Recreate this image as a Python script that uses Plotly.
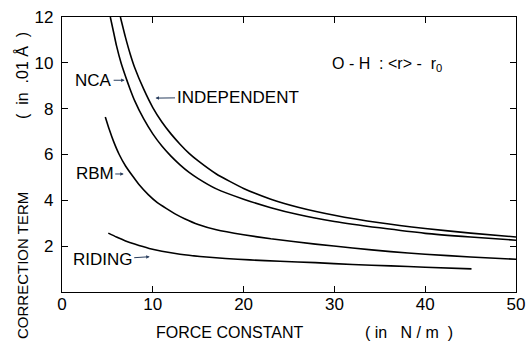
import plotly.graph_objects as go

# Data
ind_x = [6.43, 7, 7.5, 8, 9, 10, 11, 12, 13, 14, 15, 17, 20, 23, 26, 30, 35, 40, 45, 50]
ind_y = [12.0, 11.1, 10.4, 9.8, 8.85, 8.05, 7.42, 6.9, 6.45, 6.05, 5.72, 5.15, 4.52, 4.05,
         3.7, 3.35, 3.02, 2.77, 2.57, 2.40]

nca_x = [5.32, 5.7, 6, 6.5, 7, 7.5, 8, 9, 10, 11, 12, 13, 14, 15, 17, 20, 23, 26, 30, 35, 40, 45, 50]
nca_y = [12.0, 11.3, 10.75, 10.0, 9.4, 8.85, 8.35, 7.55, 6.9, 6.37, 5.93, 5.55, 5.22, 4.95,
         4.5, 4.05, 3.68, 3.38, 3.08, 2.8, 2.56, 2.4, 2.26]

rbm_x = [4.77, 5.2, 5.7, 6.3, 7, 7.78, 8.5, 9.5, 10.5, 11.47, 12.5, 13.5, 15, 17, 20, 23,
         27.9, 32, 36.2, 40, 45, 50]
rbm_y = [7.64, 7.1, 6.55, 6.0, 5.5, 5.06, 4.68, 4.25, 3.9, 3.65, 3.4, 3.2, 2.95, 2.72, 2.5,
         2.32, 2.09, 1.92, 1.76, 1.65, 1.53, 1.43]

rid_x = [5.1, 6, 7, 8, 9.6, 11, 13, 15.2, 18, 20.7, 24, 27.9, 32, 36.2, 40, 45.1]
rid_y = [2.57, 2.4, 2.23, 2.09, 1.9, 1.78, 1.65, 1.55, 1.46, 1.4, 1.34, 1.28, 1.2, 1.14, 1.08, 1.01]

x_ticks = [0, 10, 20, 30, 40, 50]
y_ticks = [2, 4, 6, 8, 10, 12]

FONT = "Liberation Sans"
fig = go.Figure()
for xs, ys in [(ind_x, ind_y), (nca_x, nca_y), (rbm_x, rbm_y), (rid_x, rid_y)]:
    fig.add_trace(go.Scatter(x=xs, y=ys, mode="lines",
                             line=dict(color="black", width=1.6, shape="spline", smoothing=0.5),
                             showlegend=False, hoverinfo="skip"))

axis_common = dict(showgrid=False, zeroline=False, showline=True, linecolor="black",
                   linewidth=1.3, mirror="ticks", ticks="inside", ticklen=6,
                   tickcolor="black", tickwidth=1.2, automargin=False,
                   tickfont=dict(family=FONT, size=17, color="black"))
fig.update_xaxes(range=[0, 50], tickvals=x_ticks, ticktext=[str(v) for v in x_ticks],
                 ticklabelstandoff=-4, **axis_common)
fig.update_yaxes(range=[0, 12], tickvals=y_ticks, ticktext=[str(v) for v in y_ticks],
                 ticklabelstandoff=4, **axis_common)

lab_font = dict(family=FONT, size=17, color="black")
title_font = dict(family=FONT, size=16, color="black")
ann = []
ann.append(dict(x=6.9, y=9.24, xref="x", yref="y", text="NCA", showarrow=True,
                ax=-31, ay=0, arrowhead=2, arrowsize=0.7, arrowwidth=1, font=lab_font))
ann.append(dict(x=10.3, y=8.46, xref="x", yref="y", text="INDEPENDENT", showarrow=True,
                ax=82, ay=-1, arrowhead=2, arrowsize=0.7, arrowwidth=1, font=lab_font))
ann.append(dict(x=6.8, y=5.15, xref="x", yref="y", text="RBM", showarrow=True,
                ax=-29, ay=0, arrowhead=2, arrowsize=0.7, arrowwidth=1, font=lab_font))
ann.append(dict(x=9.66, y=1.54, xref="x", yref="y", text="RIDING", showarrow=True,
                ax=-47, ay=3, arrowhead=2, arrowsize=0.7, arrowwidth=1, font=lab_font))
ann.append(dict(x=35.8, y=9.93, xref="x", yref="y", text="O - H  : &lt;r&gt; -  r<sub>0</sub>",
                showarrow=False, font=dict(family=FONT, size=16, color="black")))
# y-axis title (two pieces, as spaced in the reference)
ann.append(dict(x=22, y=266, xref="paper", yref="paper", text="CORRECTION TERM",
                textangle=-90, showarrow=False, font=dict(family=FONT, size=15, color="black")))
ann.append(dict(x=22, y=76, xref="paper", yref="paper", text="(  in  .01 Å  )",
                textangle=-90, showarrow=False, font=title_font))
# x-axis title
ann.append(dict(x=229, y=332, xref="paper", yref="paper", text="FORCE CONSTANT",
                showarrow=False, font=title_font))
ann.append(dict(x=409, y=332, xref="paper", yref="paper", text="( in   N / m  )",
                showarrow=False, font=title_font))

# convert pixel positions of title annotations to paper coordinates
L, R, T, B, W, H = 62, 12, 17, 50, 528, 342
pw, ph = W - L - R, H - T - B
for a in ann:
    if a["xref"] == "paper":
        a["x"] = (a["x"] - L) / pw
        a["y"] = (H - B - a["y"]) / ph
        a["xanchor"] = "center"
        a["yanchor"] = "middle"

fig.update_layout(width=W, height=H, margin=dict(l=L, r=R, t=T, b=B),
                  paper_bgcolor="white", plot_bgcolor="white", annotations=ann)
fig.write_html("out.html", config={"displayModeBar": False},
               post_script="document.body.style.margin='0';document.body.style.overflow='hidden';")
